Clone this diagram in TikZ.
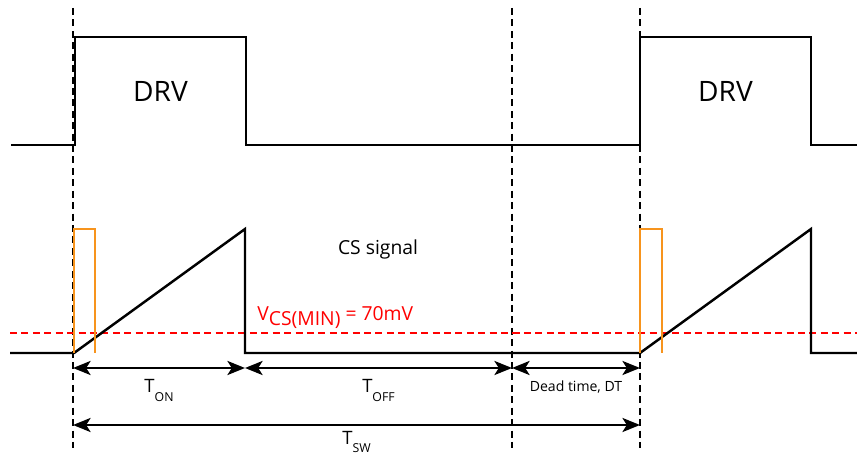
\documentclass[tikz,border=0pt]{standalone}
\usepackage{fontspec}
\setmainfont{Open Sans}
\usetikzlibrary{arrows.meta}
\definecolor{csorange}{RGB}{247,148,29}
\newcommand{\lowsub}[1]{\raisebox{-0.45em}{\fontsize{7}{8}\selectfont #1}}
\tikzset{
  signal/.style={line width=1.4pt, line join=miter},
  marker/.style={line width=1.5pt, dash pattern=on 4pt off 2.5pt},
  level/.style={red, line width=1.4pt, dash pattern=on 4pt off 2.5pt},
  span/.style={<->, line width=1.4pt},
}
\begin{document}
\begin{tikzpicture}[x=0.02cm, y=-0.02cm,
    >={Stealth[length=10pt, width=8pt, inset=2.5pt]}]
      \useasboundingbox (0,0) rectangle (857,455);

        % Tijdstippen
        \coordinate (a0) at (73,8);    \coordinate (b0) at (73,448);
        \coordinate (a2) at (512,8);   \coordinate (b2) at (512,448);
        \coordinate (a3) at (640,8);   \coordinate (b3) at (640,448);

        % Markeerlijnen
        \draw[marker] (a0) -- (b0);
        \draw[marker] (a2) -- (b2);
        \draw[marker] (a3) -- (b3);

        % DRV signaal
        \draw[signal] (11,145) -- (75,145) -- (75,37) -- (246,37) -- (246,145)
          -- (640,145) -- (640,37) -- (811,37) -- (811,145) -- (857,145);
        \node[font=\fontsize{16}{18}\selectfont] (drv1) at (160.5,91) {DRV};
        \node[font=\fontsize{16}{18}\selectfont] (drv2) at (725.5,91) {DRV};

        % Drempel
        \draw[level] (10,333) -- (857,333);
        \node[red, anchor=base west, inner sep=0pt, font=\fontsize{11}{13}\selectfont]
          (vmin) at (257,320) {V\raisebox{-0.5ex}{CS(MIN)} = 70mV};

        % CS signaal
        \draw[signal] (10,353) -- (74,353) -- (245,229) -- (245,353)
          -- (640,353) -- (811,229) -- (811,353) -- (857,353);
        \draw[csorange, line width=1.4pt] (74,353) -- (74,229) -- (95,229) -- (95,353);
        \draw[csorange, line width=1.4pt] (640,353) -- (640,229) -- (662,229) -- (662,353);
        \node[font=\fontsize{11}{13}\selectfont] (cs) at (378,249) {CS signal};

        % Tijdsduren
        \coordinate (p0) at (73,368);
        \coordinate (p1) at (245,368);
        \coordinate (p2) at (512,368);
        \coordinate (p3) at (640,368);
        \coordinate (q0) at (73,425);
        \coordinate (q3) at (640,425);
        \draw[span] (p0) -- (p1)
          node[midway, below=6pt, inner sep=0pt, font=\fontsize{10.5}{12}\selectfont] (ton) {T\lowsub{ON}};
        \draw[span] (p1) -- (p2)
          node[midway, below=6pt, inner sep=0pt, font=\fontsize{10.5}{12}\selectfont] (toff) {T\lowsub{OFF}};
        \draw[span] (p2) -- (p3)
          node[midway, below=6.5pt, inner sep=0pt, font=\fontsize{8}{10}\selectfont] (dt) {Dead time, DT};
        \draw[span] (q0) -- (q3)
          node[midway, below=3pt, inner sep=0pt, font=\fontsize{10.5}{12}\selectfont] (tsw) {T\lowsub{SW}};

      \end{tikzpicture}
\end{document}
